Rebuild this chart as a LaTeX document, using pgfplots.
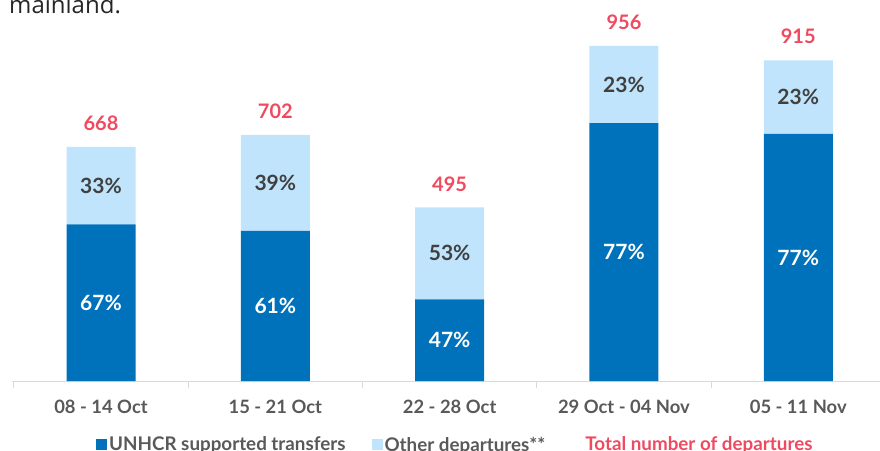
\documentclass[border=0pt]{standalone}
\usepackage{pgfplots}
\pgfplotsset{compat=1.18}
\usepackage{pgfplotstable}
\usepackage{fontspec}
\setmainfont{Lato}
\newfontfamily\titlefont{Open Sans}
\definecolor{unblue}{RGB}{0,114,188}
\definecolor{unlight}{RGB}{191,228,252}
\definecolor{unred}{RGB}{239,74,96}
\definecolor{txtgray}{RGB}{64,64,64}
\definecolor{tickgray}{RGB}{89,89,89}
\definecolor{axgray}{RGB}{217,217,217}

\pgfplotstableread{
x u o t pu po
0 447 221 668 67 33
1 428 274 702 61 39
2 233 262 495 47 53
3 736 220 956 77 23
4 705 210 915 77 23
}\data

\pgfplotsset{base/.style={scale only axis, width=868pt, height=381pt,
  xmin=-0.5106, xmax=4.469, ymin=0, ymax=1087,
  at={(12pt,69pt)}, anchor=south west}}

\begin{document}
\begin{tikzpicture}
\useasboundingbox (0,0) rectangle (880pt,450pt);
\clip (0,0) rectangle (880pt,450pt);
\node[anchor=base west, font=\titlefont\fontsize{24}{28}\selectfont, text=black!85, inner sep=0] at (9pt,436pt) {mainland.};

\begin{axis}[base, ybar stacked, bar width=69pt,
  axis x line*=bottom, axis y line=none,
  x axis line style={axgray, line width=1pt},
  xtick={0,...,4},
  xticklabels={08 - 14 Oct, 15 - 21 Oct, 22 - 28 Oct, 29 Oct - 04 Nov, 05 - 11 Nov},
  major tick length=0pt, tick align=outside,
  extra x ticks={-0.5,0.5,1.5,2.5,3.5,4.5},
  extra x tick labels={},
  extra x tick style={major tick length=7pt, tick style={axgray, line width=1pt}},
  xticklabel style={font=\bfseries\fontsize{18.4}{21}\selectfont, text=tickgray, anchor=base, yshift=-32pt},
  legend columns=3,
  legend style={draw=none, fill=none, at={(0.0933,-0.167)}, anchor=west,
    font=\bfseries\fontsize{18.8}{22}\selectfont, text=tickgray,
    /tikz/every even column/.append style={column sep=24pt}},
  legend image code/.code={\fill[#1] (0pt,-5pt) rectangle (11pt,6pt);},
]
\addplot[fill=unblue, draw=none] table[x=x, y=u] \data;
\addlegendentry{UNHCR supported transfers}
\addplot[fill=unlight, draw=none] table[x=x, y=o] \data;
\addlegendentry{Other departures**}
\addlegendimage{empty legend}
\addlegendentry{\hspace{12pt}\textcolor{unred}{Total number of departures}}
\end{axis}

\begin{axis}[base, hide axis, clip=false]
\addplot[draw=none, mark=none, nodes near coords={\pgfplotspointmeta\%}, point meta=explicit symbolic,
  every node near coord/.append style={anchor=center, text=white, font=\bfseries\fontsize{21}{24}\selectfont}]
  table[x=x, y expr=\thisrow{u}/2, meta=pu] \data;
\addplot[draw=none, mark=none, nodes near coords={\pgfplotspointmeta\%}, point meta=explicit symbolic,
  every node near coord/.append style={anchor=center, text=txtgray, font=\bfseries\fontsize{21}{24}\selectfont}]
  table[x=x, y expr=\thisrow{u}+\thisrow{o}/2, meta=po] \data;
\addplot[draw=none, mark=none, nodes near coords={\pgfplotspointmeta}, point meta=explicit symbolic,
  every node near coord/.append style={anchor=south, inner sep=0pt, yshift=16pt, text=unred, font=\bfseries\fontsize{20}{24}\selectfont}]
  table[x=x, y=t, meta=t] \data;
\end{axis}
\end{tikzpicture}
\end{document}
